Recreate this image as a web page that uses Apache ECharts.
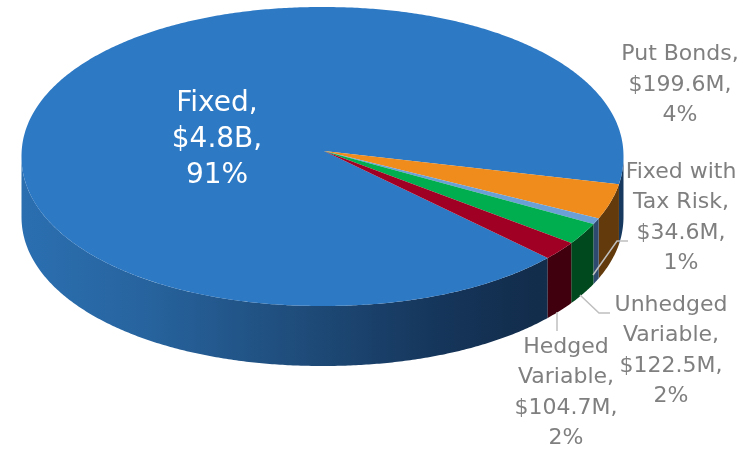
<!DOCTYPE html>
<html>
<head>
<meta charset="utf-8">
<style>
html,body{margin:0;padding:0;background:#fff}
#chart{width:755px;height:451px}
</style>
<script src="https://cdn.jsdelivr.net/npm/echarts@6/dist/echarts.min.js"></script>
</head>
<body>
<div id="chart"></div>
<script>
// Debt portfolio mix, amounts in $M
const categories = ['Fixed', 'Put Bonds', 'Fixed with Tax Risk', 'Unhedged Variable', 'Hedged Variable'];
const amounts = [4800, 199.6, 34.6, 122.5, 104.7];
const labelTexts = [
  'Fixed,\n$4.8B,\n91%',
  'Put Bonds,\n$199.6M,\n4%',
  'Fixed with\nTax Risk,\n$34.6M,\n1%',
  'Unhedged\nVariable,\n$122.5M,\n2%',
  'Hedged\nVariable,\n$104.7M,\n2%'
];
const topColors = ['#2e79c4', '#f08c1c', '#6ba0d6', '#00ae4f', '#a00024'];
const wallColors = [null, '#623a0b', '#2e4a6e', '#00491f', '#40000e'];

// Tilted disc geometry: rim centre, radii, rim roundness, wall height and the apex the slices meet at
const disc = { cx: 322.5, cy: 156.5, rx: 301, ry: 149.5, power: 2.06, depth: 60, apexX: 324, apexY: 151, startDeg: 42.2 };

// Label centres and leader polylines, by category index
const labelLayout = [
  { x: 217, y: 140, size: 28, fill: '#ffffff', lh: 36 },
  { x: 680, y: 85, size: 22, fill: '#7f7f7f', lh: 30.5 },
  { x: 681, y: 218, size: 22, fill: '#7f7f7f', lh: 30.5 },
  { x: 671, y: 351, size: 22, fill: '#7f7f7f', lh: 30.5 },
  { x: 566, y: 393, size: 22, fill: '#7f7f7f', lh: 30.5 }
];
const leaders = [
  null,
  null,
  [[593, 275], [617, 241], [628, 241]],
  [[580, 295], [599, 313], [610, 313]],
  [[557, 312], [557, 331]]
];

const blueWall = {
  type: 'linear', x: 21, y: 0, x2: 623, y2: 0, global: true,
  colorStops: [
    { offset: 0, color: '#2b6fb1' },
    { offset: 0.2, color: '#27649f' },
    { offset: 0.45, color: '#1f4d7c' },
    { offset: 0.7, color: '#15355a' },
    { offset: 0.86, color: '#122c4b' },
    { offset: 1, color: '#17395f' }
  ]
};

const total = amounts.reduce((a, b) => a + b, 0);

// Rim point at a given angle, slightly fuller than a true ellipse
function pointAt(deg, dy) {
  const t = deg * Math.PI / 180;
  const c = Math.cos(t), s = Math.sin(t);
  const r = Math.pow(Math.pow(Math.abs(c), disc.power) + Math.pow(Math.abs(s), disc.power), -1 / disc.power);
  return [disc.cx + disc.rx * r * c, disc.cy + disc.ry * r * s + dy];
}

function arcPoints(from, to, dy) {
  const pts = [];
  const n = Math.max(2, Math.ceil(Math.abs(to - from) * 2));
  for (let i = 0; i <= n; i++) pts.push(pointAt(from + (to - from) * i / n, dy));
  return pts;
}

// Side wall pieces for the part of a slice facing the viewer
function wallRanges(from, to) {
  const out = [];
  for (const base of [0, 360]) {
    const a = Math.max(from, base), b = Math.min(to, base + 180);
    if (b > a) out.push([a, b]);
  }
  return out;
}

function renderSlice(params, api) {
  const i = params.dataIndex;
  let from = disc.startDeg;
  for (let k = 0; k < i; k++) from += amounts[k] / total * 360;
  const to = from + api.value(1) / total * 360;
  const children = [];

  wallRanges(from, to).forEach(([a, b]) => {
    children.push({
      type: 'polygon',
      shape: { points: arcPoints(a, b, 0).concat(arcPoints(b, a, disc.depth)) },
      style: { fill: wallColors[i] || blueWall }
    });
  });
  children.push({
    type: 'polygon',
    shape: { points: [[disc.apexX, disc.apexY]].concat(arcPoints(from, to, 0)) },
    style: { fill: topColors[i] },
    z2: 2
  });
  if (leaders[i]) {
    children.push({
      type: 'polyline',
      shape: { points: leaders[i] },
      style: { stroke: '#bfbfbf', lineWidth: 1.5, fill: 'none' },
      z2: 3
    });
  }
  const lab = labelLayout[i];
  children.push({
    type: 'text',
    z2: 4,
    style: {
      x: lab.x, y: lab.y,
      text: labelTexts[i],
      fill: lab.fill,
      font: lab.size + 'px "DejaVu Sans", sans-serif',
      lineHeight: lab.lh,
      align: 'center',
      verticalAlign: 'middle'
    }
  });
  return { type: 'group', children };
}

const chart = echarts.init(document.getElementById('chart'), null, { renderer: 'canvas' });
chart.setOption({
  animation: false,
  backgroundColor: '#ffffff',
  series: [{
    type: 'custom',
    coordinateSystem: 'none',
    renderItem: renderSlice,
    data: categories.map((c, i) => ({ name: c, value: [i, amounts[i]] }))
  }]
});
</script>
</body>
</html>
